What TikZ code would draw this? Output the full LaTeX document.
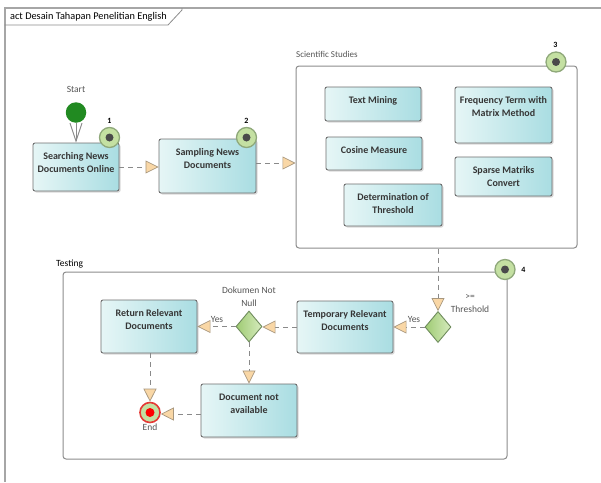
\documentclass[tikz,border=0pt]{standalone}
\usepackage{fontspec}
\setmainfont{Carlito}
\usetikzlibrary{arrows.meta,shapes.geometric,shadows}

\definecolor{boxL}{HTML}{E6F6F6}
\definecolor{boxR}{HTML}{A9DDE2}
\definecolor{boxLine}{HTML}{6E6E6E}
\definecolor{boxText}{HTML}{363636}
\definecolor{labelText}{HTML}{555555}
\definecolor{flowLine}{HTML}{8A8A8A}
\definecolor{tipFill}{HTML}{F9D7A6}
\definecolor{tipLine}{HTML}{A8977E}
\definecolor{frameLine}{HTML}{8C8C8C}
\definecolor{outerLine}{HTML}{A6A6A6}
\definecolor{markFill}{HTML}{C4E0A2}
\definecolor{markLine}{HTML}{8FA87A}
\definecolor{markDot}{HTML}{4A4A4A}
\definecolor{startFill}{HTML}{218A21}
\definecolor{gateL}{HTML}{9FCB73}
\definecolor{gateR}{HTML}{D6EBBE}
\definecolor{gateLine}{HTML}{6F8C5C}
\definecolor{endRing}{HTML}{E53935}
\definecolor{endDot}{HTML}{FF0000}

\tikzset{
  actbox/.style={rectangle, rounded corners=2pt, draw=boxLine, line width=0.9pt,
    left color=boxL, right color=boxR, inner sep=0pt,
    drop shadow={opacity=0.3, shadow xshift=1.5pt, shadow yshift=-1.5pt}},
  boxtext/.style={anchor=north, inner sep=0pt, align=center,
    font=\bfseries\fontsize{10}{13}\selectfont, text=boxText},
  region/.style={rectangle, rounded corners=3pt, draw=frameLine, line width=1pt,
    fill=white, inner sep=0pt},
  flowlabel/.style={inner sep=0pt, align=center, text=labelText,
    font=\fontsize{9.5}{12.5}\selectfont},
  marknum/.style={inner sep=0pt, font=\bfseries\fontsize{8}{9}\selectfont, text=black},
  markball/.style={circle, minimum size=20pt, inner sep=0pt, draw=markLine,
    line width=1.3pt, fill=markFill},
  gate/.style={diamond, minimum width=26pt, minimum height=31pt, inner sep=0pt,
    left color=gateL, right color=gateR, draw=gateLine, line width=0.9pt},
  flow/.style={draw=flowLine, line width=1pt, dash pattern=on 5pt off 4pt,
    -{Triangle[length=13pt,width=13pt,color=tipLine,fill=tipFill,line width=0.7pt]}},
}

% activity box: name, centre, width, height, caption
\newcommand\actbox[5]{%
  \node[actbox, minimum width=#3pt, minimum height=#4pt] (#1) at (#2) {};
  \node[boxtext] (#1-text) at ([yshift=-10pt]#1.north) {#5};}
% numbered step marker: name, centre, number position, number
\newcommand\stepmark[4]{%
  \node[markball] (#1) at (#2) {};
  \fill[markDot] (#1.center) circle (4pt);
  \node[marknum] (#1-num) at (#3) {#4};}

\begin{document}
\begin{tikzpicture}[x=1pt, y=-1pt]
\useasboundingbox (0,0) rectangle (601,482);

% diagram frame and its name tab
\draw[outerLine, line width=2pt] (4.5,482) -- (4.5,8) -- (601,8);
\draw[frameLine, line width=0.8pt] (4.5,25) -- (168,25) -- (182,10) -- (182,8);
\node[anchor=west, inner sep=0pt, text=black, font=\fontsize{10.3}{12}\selectfont]
  (title) at (10,17) {act Desain Tahapan Penelitian English};

% regions
\node[region, minimum width=281pt, minimum height=182pt] (sci) at (436.5,157) {};
\node[anchor=west, inner sep=0pt, text=labelText, font=\fontsize{9}{10}\selectfont]
  (sci-name) at (296,54) {Scientific Studies};
\node[region, minimum width=444pt, minimum height=187pt] (test) at (285,365.5) {};
\node[anchor=west, inner sep=0pt, text=black, font=\fontsize{9.5}{10}\selectfont]
  (test-name) at (56,264) {Testing};

% start
\node[circle, fill=startFill, minimum size=20.5pt, inner sep=0pt] (start) at (76,112.5) {};
\node[flowlabel] (start-name) at (76,89.5) {Start};

% activities
\actbox{search}{76,167}{86}{48}{Searching News\\Documents Online}
\actbox{sampling}{207.5,166}{97}{54}{Sampling News\\Documents}
\actbox{textmining}{373,104}{96}{34}{Text Mining}
\actbox{freq}{503.5,115}{97}{56}{Frequency Term with\\Matrix Method}
\actbox{cosine}{374,153.5}{96}{33}{Cosine Measure}
\actbox{sparse}{503.5,176.5}{97}{39}{Sparse Matriks\\Convert}
\actbox{threshold}{393,205}{98}{42}{Determination of\\Threshold}
\actbox{temp}{345,327}{96}{52}{Temporary Relevant\\Documents}
\actbox{ret}{149,326.5}{96}{53}{Return Relevant\\Documents}
\actbox{dna}{249,410.5}{96}{53}{Document not\\available}

% decisions
\node[gate] (thr) at (438,327) {};
\node[flowlabel] (thr-name) at (470,303.5) {>=\\Threshold};
\node[gate] (dnn) at (249,326.5) {};
\node[flowlabel] (dnn-name) at (249,296.5) {Dokumen Not\\Null};

% end
\node[circle, minimum size=20pt, inner sep=0pt, draw=endRing, line width=1.6pt,
  fill=markFill] (end) at (150,412.5) {};
\fill[endDot] (end.center) circle (4.5pt);
\node[flowlabel] (end-name) at (150,427.5) {End};

% step markers
\stepmark{m1}{109.5,137.5}{109.5,121}{1}
\stepmark{m2}{246.5,137.5}{246.5,121}{2}
\stepmark{m3}{556,62}{555.5,45}{3}
\stepmark{m4}{505,269.5}{523.5,269.5}{4}

% control flow
\draw[flowLine, line width=0.9pt, -{Straight Barb[length=18pt,width=12pt,line width=0.9pt]}]
  (start) -- (search);
\draw[flow] (search.east) -- (search.east -| sampling.west);
\draw[flow] ([yshift=3pt]sampling.east) -- ([yshift=3pt]sampling.east -| sci.west);
\draw[flow] (thr.north |- sci.south) -- (thr.north);
\draw[flow] (thr.west) -- (thr.west -| temp.east);
\node[flowlabel] (yes1) at (414,319) {Yes};
\draw[flow] (temp.west) -- (temp.west -| dnn.east);
\draw[flow] (dnn.west) -- (dnn.west -| ret.east);
\node[flowlabel] (yes2) at (217,319.5) {Yes};
\draw[flow] (dnn.south) -- (dnn.south |- dna.north);
\draw[flow] (ret.south -| end.north) -- (end.north);
\draw[flow] ([yshift=-1.5pt]end.east -| dna.west) -- ([yshift=-1.5pt]end.east);
\end{tikzpicture}
\end{document}
